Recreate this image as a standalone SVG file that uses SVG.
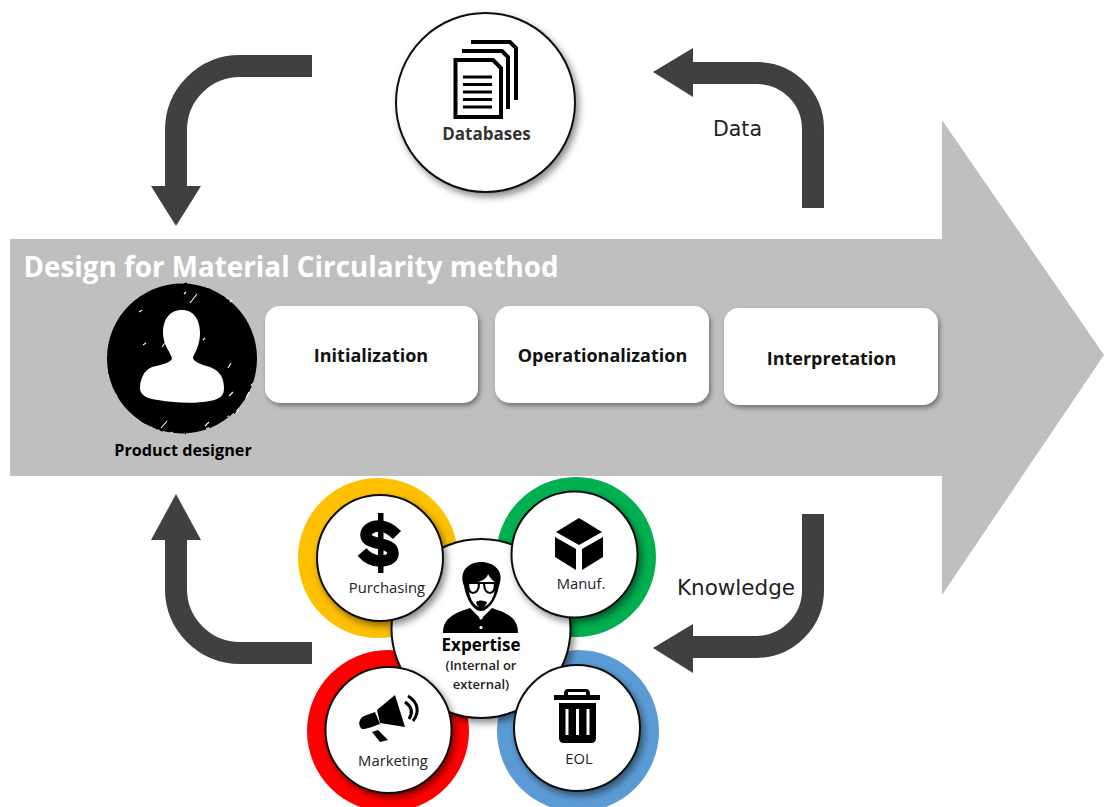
<svg xmlns="http://www.w3.org/2000/svg" width="1104" height="807" viewBox="0 0 1104 807">
<defs>
<style>
text{font-family:"Open Sans","Liberation Sans",sans-serif;text-anchor:middle;fill:#000}
.b{font-weight:700}
.lab{font-size:14.800px;fill:#222}
.step{font-size:18px;font-weight:700;fill:#111}
.thin{font-family:"DejaVu Sans",sans-serif;fill:#222}
.conn{fill:none;stroke:#404040;stroke-width:22}
.head{fill:#404040}
.white{fill:#fff;stroke:#111;stroke-width:2;filter:url(#sh)}
.ic{fill:#000}
</style>
<filter id="sh" x="-20%" y="-20%" width="145%" height="145%"><feDropShadow dx="3" dy="4" stdDeviation="3.500" flood-color="#000" flood-opacity="0.45"/></filter>
<filter id="sh2" x="-10%" y="-10%" width="125%" height="125%"><feDropShadow dx="2" dy="3" stdDeviation="2.500" flood-color="#000" flood-opacity="0.4"/></filter>
<filter id="rough" x="-5%" y="-5%" width="110%" height="110%"><feTurbulence type="fractalNoise" baseFrequency="0.12" numOctaves="2" seed="4"/><feDisplacementMap in="SourceGraphic" scale="2.500"/></filter>
</defs>
<rect width="1104" height="807" fill="#fff"/>
<g id="process-arrow">
<polygon points="10,239 942,239 942,120 1104,355 942,595 942,476 10,476" fill="#bfbfbf"/>
<text x="291" y="277" class="b" style="font-size:27.800px;fill:#fff">Design for Material Circularity method</text>
</g>
<g id="connectors">
<path class="conn" d="M312 66H240A64 64 0 0 0 176 130V186"/><polygon class="head" points="151,186 201,186 176,226"/>
<path class="conn" d="M693 73H757A56 56 0 0 1 813 129V208"/><polygon class="head" points="693,48 693,97 653,72"/>
<path class="conn" d="M813 514V590A57 57 0 0 1 756 647H693"/><polygon class="head" points="693,624 693,673 653,648"/>
<path class="conn" d="M312 653H240A64 64 0 0 1 176 589V540"/><polygon class="head" points="151,540 201,540 176,494"/>
</g>
<g id="label-data"><text x="737.500" y="136" class="thin" style="font-size:20.500px">Data</text></g>
<g id="label-knowledge"><text x="736" y="595" class="thin" style="font-size:21.500px">Knowledge</text></g>
<g id="databases">
<circle class="white" cx="485.500" cy="102.500" r="89.500"/>
<g fill="#fff" stroke="#000" stroke-width="4">
<path d="M471 42H510L516 48V100"/>
<path d="M462 51H502L508 57V109"/>
<path d="M455.500 60H493L501 68V117H455.500Z"/>
</g>
<path d="M463 77H492M463 84.500H492M463 92H492M463 99.500H492M463 107H492" stroke="#000" stroke-width="3"/>
<text x="486.500" y="140" class="b" style="font-size:17px;fill:#333">Databases</text>
</g>
<g id="product-designer">
<circle cx="182" cy="358.500" r="75" fill="#000" filter="url(#rough)"/>
<path d="M182 310C169 310 163 320 163 333C163 344 170 352 172 358C172 362 164 364 152 367C143 371 140 380 140 389C141 396 148 399 158 400C175 403 195 404 210 401C220 399 224 396 224 388C224 378 220 371 210 367C200 364 193 362 193 357C196 351 200 344 200 333C200 320 194 310 182 310Z" fill="#fff"/>
<path d="M190 303L197 294M139 312L142 310M162 347L165 343M143 345L146 343M161 428L167 421M205 426L209 422M228 368L231 363M230 302L232 300M229 396L233 392M249 392L246 398M236 413L239 410M203 340L205 338M184 294L186 292" stroke="#fff" stroke-width="1.100" fill="none"/>
<text x="183" y="456" class="b" style="font-size:16.200px">Product designer</text>
</g>
<g id="initialization">
<rect x="265" y="306" width="213" height="97" rx="15" fill="#fff" filter="url(#sh2)"/>
<text x="371" y="362" class="step">Initialization</text>
</g>
<g id="operationalization">
<rect x="495" y="306" width="214" height="97" rx="15" fill="#fff" filter="url(#sh2)"/>
<text x="602.500" y="362" class="step">Operationalization</text>
</g>
<g id="interpretation">
<rect x="724" y="308" width="214" height="97" rx="15" fill="#fff" filter="url(#sh2)"/>
<text x="831.500" y="365" class="step">Interpretation</text>
</g>
<g id="rings">
<circle cx="378" cy="558" r="80" fill="#ffc000"/>
<circle cx="576" cy="557" r="80" fill="#00b050"/>
<circle cx="388" cy="731" r="81" fill="#ff0000"/>
<circle cx="578" cy="731" r="81" fill="#5b9bd5"/>
</g>
<g id="expertise">
<circle class="white" cx="481" cy="628.500" r="89.500"/>
<path class="ic" d="M443 633C443 620 451 614 470 608L481 619L492 608C511 614 518 620 518 633Z"/>
<path class="ic" d="M464 586C458 570 470 562 481 562C494 562 505 571 499 586C497 598 489 611 481 611C473 611 466 598 464 586Z"/>
<path fill="#fff" d="M468 583L478 582C484 580 487 578 488 574C490 578 493 581 495 582C496 596 490 606 481 608C473 606 468 596 468 583Z"/>
<path class="ic" d="M476 602C479 600 483 600 487 602C486 606 483 608 481 609C479 608 477 606 476 602Z"/>
<path d="M465 583H498" stroke="#000" stroke-width="2" fill="none"/>
<path d="M468 583H479C479 590 476 593 473 593C470 593 468 590 468 583ZM484 583H495C495 590 493 593 490 593C487 593 484 590 484 583Z" fill="#fff" stroke="#000" stroke-width="2.200"/>
<circle cx="481" cy="618" r="1.600" fill="#fff"/><circle cx="481" cy="627.500" r="1.600" fill="#fff"/>
<text x="481" y="651" class="b" style="font-size:17px">Expertise</text>
<text x="481" y="670" style="font-size:13px;font-weight:600;fill:#222">(Internal or</text>
<text x="481" y="689" style="font-size:13px;font-weight:600;fill:#222">external)</text>
</g>
<g id="purchasing">
<circle class="white" cx="380" cy="558" r="63"/>
<rect x="378" y="513" width="5.500" height="60" fill="#000"/>
<path d="M397 535C390 528 385 526 379 526C370 526 366 531 366 535C366 546 393 541 393 553C393 559 387 561 380 561C373 561 367 558 362 552" fill="none" stroke="#000" stroke-width="11.500"/>
<text x="387" y="593" class="lab">Purchasing</text>
</g>
<g id="manuf">
<circle class="white" cx="574.500" cy="554.500" r="63"/>
<polygon class="ic" points="579,518 602,532 579,545 556,532"/>
<polygon class="ic" points="555,537 576,549 576,570 555,557"/>
<polygon class="ic" points="603,537 582,549 582,570 603,557"/>
<text x="581" y="589" class="lab">Manuf.</text>
</g>
<g id="marketing">
<circle class="white" cx="388.500" cy="730" r="63"/>
<polygon class="ic" points="377,710 395,695 405,727 380,723"/>
<path class="ic" d="M375 712L364 716C358 719 358 726 362 729C366 729 372 727 380 724Z"/>
<polygon class="ic" points="372,732 378,730 388,740 380,742"/>
<path d="M405 702C412 707 413 713 409 719M408 696C418 702 420 712 413 721" fill="none" stroke="#000" stroke-width="3"/>
<text x="393" y="766" class="lab">Marketing</text>
</g>
<g id="eol">
<circle class="white" cx="577" cy="728" r="63"/>
<path class="ic" d="M568 689H586Q590 689 590 694V695H600V700H554V695H564V694Q564 689 568 689ZM568 692V695H586V692Z"/>
<path class="ic" d="M559 703H596V738Q596 743 591 743H564Q559 743 559 738Z"/>
<path d="M567 709V735M577.500 709V735M588 709V735" stroke="#fff" stroke-width="3"/>
<text x="579" y="764" class="lab">EOL</text>
</g>
</svg>
